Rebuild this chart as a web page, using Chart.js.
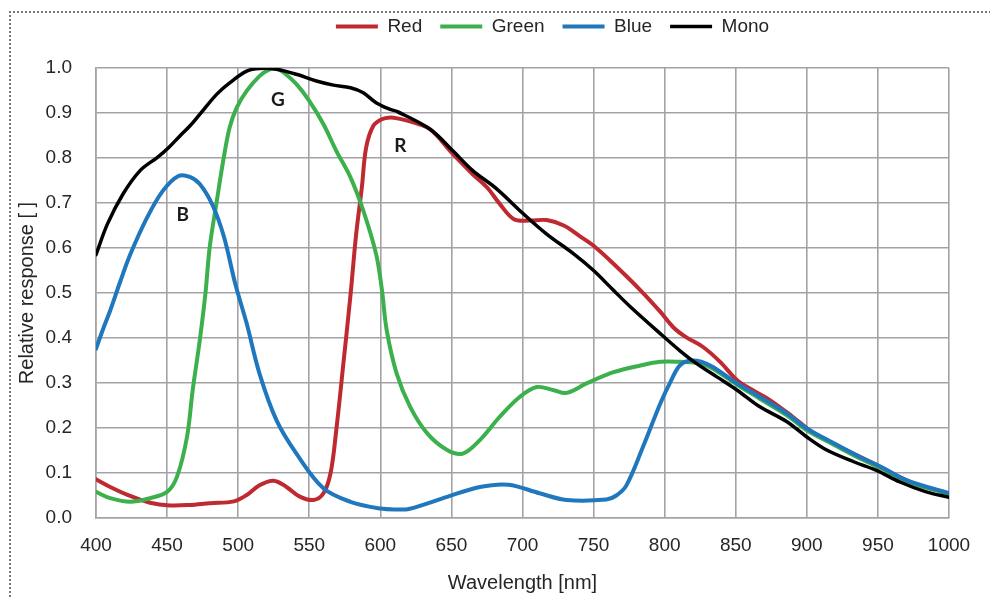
<!DOCTYPE html>
<html>
<head>
<meta charset="utf-8">
<script src="https://cdn.jsdelivr.net/npm/chart.js@4.4.1/dist/chart.umd.min.js"></script>
<style>
    html, body { margin: 0; padding: 0; background: #fff; overflow: hidden; }
    #wrap { position: relative; width: 990px; height: 599px; }
    #frame {
        position: absolute; left: 9px; top: 11px; width: 1100px; height: 700px;
        border-left: 2px dotted #777; border-top: 2px dotted #777;
    }
    #chart { position: absolute; left: 0; top: 0; }
</style>
</head>
<body>
<div id="wrap">
    <div id="frame"></div>
    <canvas id="chart" width="990" height="599"></canvas>
</div>
<script>
// tick values
const xTicks = [400, 450, 500, 550, 600, 650, 700, 750, 800, 850, 900, 950, 1000];
const yTicks = [0, 0.1, 0.2, 0.3, 0.4, 0.5, 0.6, 0.7, 0.8, 0.9, 1.0];

// [wavelength nm, relative response]
const red = [
    [400, 0.086], [410, 0.069], [424, 0.049], [438, 0.034], [452, 0.028], [466, 0.029],
    [480, 0.033], [497, 0.037], [506, 0.051], [515, 0.073], [525, 0.083], [534, 0.069],
    [543, 0.048], [553, 0.040], [560, 0.055], [565, 0.100], [569, 0.195], [574, 0.343],
    [579, 0.495], [583, 0.631], [587, 0.735], [590, 0.823], [595, 0.871], [601, 0.886],
    [607, 0.890], [612, 0.888], [623, 0.879], [635, 0.864], [651, 0.809], [665, 0.764],
    [675, 0.735], [684, 0.698], [694, 0.664], [705, 0.661], [717, 0.662], [729, 0.650],
    [740, 0.627], [750, 0.605], [764, 0.565], [783, 0.506], [797, 0.458], [806, 0.424],
    [815, 0.402], [827, 0.380], [839, 0.347], [851, 0.306], [862, 0.284], [874, 0.262],
    [890, 0.225], [905, 0.188], [923, 0.158], [947, 0.121], [975, 0.077], [1000, 0.055]
];
const green = [
    [400, 0.058], [410, 0.044], [424, 0.036], [438, 0.044], [450, 0.058], [457, 0.092],
    [464, 0.180], [468, 0.284], [473, 0.395], [477, 0.500], [480, 0.602], [485, 0.705],
    [489.5, 0.794], [494, 0.868], [499, 0.912], [506, 0.949], [515, 0.982], [522, 0.997],
    [527, 0.999], [532, 0.990], [541, 0.964], [550, 0.927], [560, 0.875], [569, 0.816],
    [579, 0.757], [588, 0.683], [597, 0.587], [601, 0.510], [604.5, 0.417], [611.5, 0.321],
    [621, 0.247], [633, 0.188], [647, 0.151], [658, 0.143], [670, 0.173], [684, 0.225],
    [698, 0.269], [710, 0.291], [722, 0.284], [731, 0.278], [745, 0.299], [764, 0.324],
    [783, 0.339], [797, 0.347], [811, 0.347], [822, 0.345], [832, 0.335], [851, 0.296],
    [867, 0.265], [886, 0.228], [900, 0.195], [919, 0.163], [937, 0.133], [952, 0.111],
    [970, 0.082], [1000, 0.053]
];
const blue = [
    [400, 0.376], [405, 0.420], [410, 0.461], [417, 0.525], [424, 0.585], [436, 0.668],
    [447, 0.727], [458, 0.760], [466, 0.758], [473, 0.742], [482, 0.695], [490, 0.625],
    [498, 0.520], [506, 0.432], [515, 0.321], [527, 0.217], [541, 0.143], [560, 0.066],
    [579, 0.036], [600, 0.021], [612, 0.019], [620, 0.020], [647, 0.047], [670, 0.069],
    [690, 0.074], [712, 0.055], [731, 0.040], [759, 0.041], [766, 0.050], [773, 0.072],
    [785, 0.160], [797, 0.255], [804, 0.302], [811, 0.340], [820, 0.350], [832, 0.339],
    [851, 0.299], [867, 0.269], [886, 0.232], [900, 0.199], [919, 0.166], [937, 0.136],
    [952, 0.114], [970, 0.084], [1000, 0.055]
];
const mono = [
    [400, 0.585], [408, 0.653], [419, 0.720], [431, 0.772], [443, 0.801], [451, 0.823],
    [459, 0.849], [466, 0.871], [473, 0.897], [485, 0.942], [494, 0.967], [506, 0.993],
    [515, 0.999], [527, 0.997], [541, 0.986], [555, 0.971], [567, 0.962], [579, 0.956],
    [588, 0.945], [597, 0.923], [607, 0.908], [612, 0.903], [635, 0.864], [651, 0.816],
    [665, 0.772], [682, 0.731], [700.6, 0.676], [717, 0.631], [736, 0.587], [750, 0.550],
    [764, 0.506], [776, 0.469], [799, 0.404], [811, 0.371], [822.5, 0.343], [837, 0.313],
    [851, 0.284], [867, 0.247], [886, 0.214], [900, 0.180], [914, 0.151], [933, 0.125],
    [949, 0.106], [965.5, 0.080], [984, 0.058], [1000, 0.046]
];

// the bold letters inside the plot
const noteText = ["B", "G", "R"];
const noteNm   = [461, 528, 614];
const noteVal  = [0.674, 0.929, 0.827];

const TEXT = "#262626";
const GRID = "#a3a3a7";
const FONT = "'Liberation Sans', Arial, sans-serif";

function toPoints(arr) {
    return arr.map(p => ({ x: p[0], y: p[1] }));
}

function series(label, arr, colour, width, order) {
    return {
        label: label,
        data: toPoints(arr),
        borderColor: colour,
        backgroundColor: colour,
        borderWidth: width,
        borderCapStyle: "round",
        borderJoinStyle: "round",
        pointRadius: 0,
        tension: 0.35,
        order: order,
    };
}

// nudge the legend to where the original sits
const legendShift = {
    id: "legendShift",
    afterLayout(chart) {
        const lg = chart.legend;
        if (!lg) return;
        lg.left += 78; lg.right += 78;
        lg.top -= 22;  lg.bottom -= 22;
    }
};

// B / G / R letters
const notes = {
    id: "notes",
    afterDatasetsDraw(chart) {
        const ctx = chart.ctx;
        const xs = chart.scales.x, ys = chart.scales.y;
        ctx.save();
        ctx.font = "bold 19px Lato, 'Open Sans', sans-serif";
        ctx.fillStyle = "#1a1a1a";
        ctx.textAlign = "center";
        ctx.textBaseline = "middle";
        noteText.forEach((t, i) => {
            ctx.fillText(t, xs.getPixelForValue(noteNm[i]), ys.getPixelForValue(noteVal[i]));
        });
        ctx.restore();
    }
};

new Chart(document.getElementById("chart"), {
    type: "line",
    data: {
        datasets: [
            series("Red",   red,   "#be2a30", 4,   4),
            series("Green", green, "#3bb04c", 4,   3),
            series("Blue",  blue,  "#1f77bd", 4,   2),
            series("Mono",  mono,  "#000000", 3.5, 1),
        ],
    },
    options: {
        responsive: false,
        animation: false,
        layout: { padding: { left: 0, right: 41, top: 21, bottom: 0 } },
        plugins: {
            tooltip: { enabled: false },
            legend: {
                position: "top",
                labels: {
                    usePointStyle: true,
                    pointStyle: "line",
                    pointStyleWidth: 42,
                    padding: 18,
                    color: TEXT,
                    font: { family: FONT, size: 19 },
                    sort: (a, b) => a.datasetIndex - b.datasetIndex,
                },
            },
        },
        scales: {
            x: {
                type: "linear",
                min: 400,
                max: 1000,
                afterBuildTicks: s => { s.ticks = xTicks.map(v => ({ value: v })); },
                afterFit: s => { s.height = 81; },
                grid: { color: GRID, lineWidth: 1.6, drawTicks: false },
                border: { color: GRID, width: 1.6 },
                ticks: {
                    padding: 16,
                    color: TEXT,
                    font: { family: FONT, size: 19 },
                    maxRotation: 0,
                    callback: v => String(v),
                },
                title: {
                    display: true,
                    text: "Wavelength [nm]",
                    color: TEXT,
                    font: { family: FONT, size: 20 },
                    padding: { top: 11 },
                },
            },
            y: {
                min: 0,
                max: 1,
                afterBuildTicks: s => { s.ticks = yTicks.map(v => ({ value: v })); },
                afterFit: s => { s.width = 96; },
                grid: { color: GRID, lineWidth: 1.6, drawTicks: false },
                border: { color: GRID, width: 1.6 },
                ticks: {
                    padding: 24,
                    color: TEXT,
                    font: { family: FONT, size: 19 },
                    callback: v => v.toFixed(1),
                },
                title: {
                    display: true,
                    text: "Relative response [ ]",
                    color: TEXT,
                    font: { family: FONT, size: 20 },
                    padding: { top: 15 },
                },
            },
        },
    },
    plugins: [legendShift, notes],
});
</script>
</body>
</html>
